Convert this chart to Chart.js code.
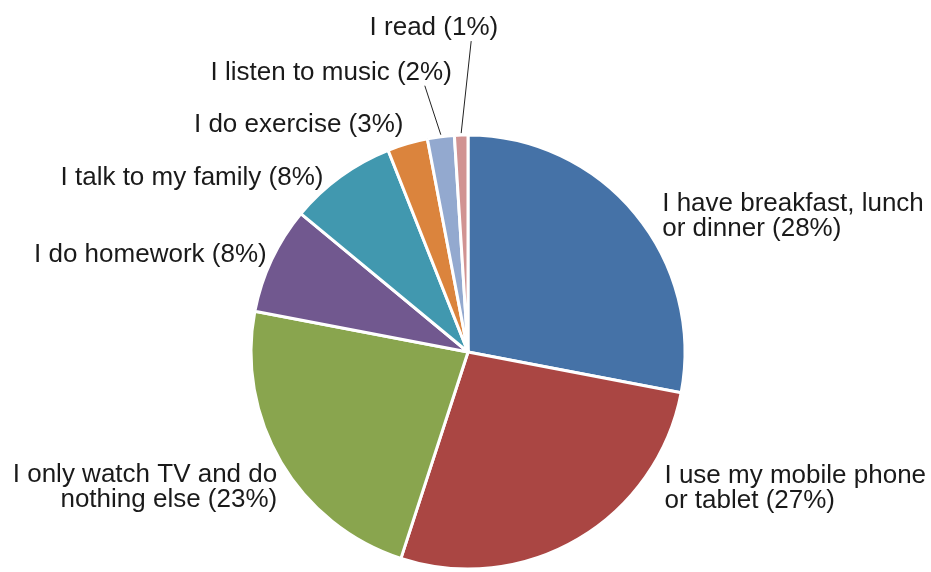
<!DOCTYPE html>
<html>
<head>
<meta charset="utf-8">
<title>Pie chart</title>
<script src="https://cdn.jsdelivr.net/npm/chart.js@4/dist/chart.umd.min.js"></script>
<style>
  html, body { margin: 0; padding: 0; background: #ffffff; }
  #myChart { display: block; }
</style>
</head>
<body>
<canvas id="myChart" width="931" height="572"></canvas>
<script>
// ----------- DATA ------------
const categories = [
  ['I have breakfast, lunch', 'or dinner'],
  ['I use my mobile phone', 'or tablet'],
  ['I only watch TV and do', 'nothing else'],
  ['I do homework'],
  ['I talk to my family'],
  ['I do exercise'],
  ['I listen to music'],
  ['I read']
];
const values = [28, 27, 23, 8, 8, 3, 2, 1];

// ----------- STYLE & LAYOUT ------------
const slice_colors = ['#4572A7', '#AA4643', '#89A54E', '#71588F', '#4198AF', '#DB843D', '#93A9CF', '#D19392'];
// label offset [dx, dy] from the middle of the slice's outer edge (first line baseline)
const label_offsets = [[27, -3], [86, -56], [-4, 20], [-5, 2], [-17, 9], [-4, -12], [11, -57], [37, -100]];
const label_align = ['left', 'left', 'right', 'right', 'right', 'right', 'right', 'right'];
const leader_lines = [false, false, false, false, false, false, true, true];
const font_size = 26;
const line_height = 25;

var my_chart;

// ----------- HELPER FUNCTION -----------
function label_lines(i) {
  const lines = categories[i].slice();
  lines[lines.length - 1] = lines[lines.length - 1] + ' (' + values[i] + '%)';
  return lines;
}

// draws the outside labels and leader lines from the arc geometry
const outside_labels = {
  id: 'outside_labels',
  afterDatasetsDraw(chart) {
    const ctx = chart.ctx;
    const arcs = chart.getDatasetMeta(0).data;
    ctx.save();
    ctx.font = font_size + 'px "Liberation Sans", Arial, sans-serif';
    ctx.fillStyle = '#1a1a1a';
    ctx.textBaseline = 'alphabetic';
    arcs.forEach((arc, i) => {
      const p = arc.getProps(['x', 'y', 'startAngle', 'endAngle', 'outerRadius'], true);
      const mid = (p.startAngle + p.endAngle) / 2;
      const ex = p.x + p.outerRadius * Math.cos(mid);
      const ey = p.y + p.outerRadius * Math.sin(mid);
      const lx = ex + label_offsets[i][0];
      const ly = ey + label_offsets[i][1];

      if (leader_lines[i]) {
        ctx.beginPath();
        ctx.strokeStyle = '#222222';
        ctx.lineWidth = 1;
        ctx.moveTo(ex, ey - 2);
        ctx.lineTo(lx - 27, ly + 6);
        ctx.stroke();
      }

      ctx.textAlign = label_align[i];
      label_lines(i).forEach((line, k) => {
        ctx.fillText(line, lx, ly + k * line_height);
      });
    });
    ctx.restore();
  }
};

// ----------- INITIALIZATION ------------
function chart_layout() {
  my_chart = new Chart(document.getElementById('myChart'), {
    type: 'pie',
    data: {
      labels: categories.map((c) => c.join(' ')),
      datasets: [{
        data: values,
        backgroundColor: slice_colors,
        borderColor: '#ffffff',
        borderWidth: 3,
        radius: 217
      }]
    },
    options: {
      responsive: false,
      animation: false,
      devicePixelRatio: 1,
      layout: {
        padding: { left: 251, right: 246, top: 135, bottom: 3 }
      },
      plugins: {
        legend: { display: false },
        tooltip: { enabled: false }
      }
    },
    plugins: [outside_labels]
  });
}

// ----------- MAIN FUNCTION ------------
function main() {
  chart_layout();
}

document.addEventListener('DOMContentLoaded', function () {
  main();
});
</script>
</body>
</html>
